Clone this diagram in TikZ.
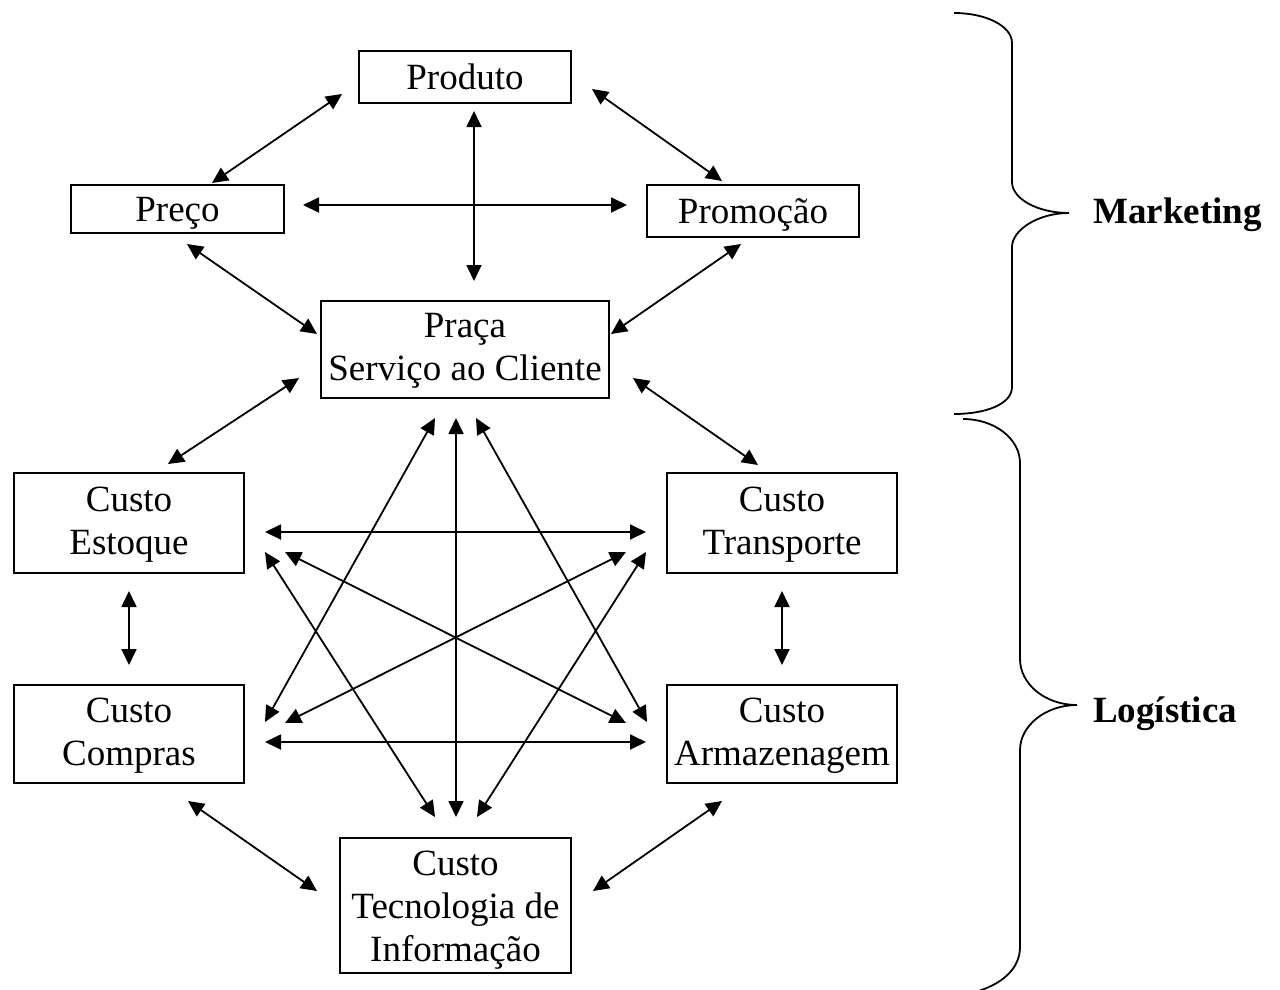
\documentclass[tikz,border=0pt]{standalone}
\usepackage{fontspec}
\setmainfont{Liberation Serif}
\usetikzlibrary{arrows.meta}
\newcommand\boxlines[1]{\begin{tabular}[t]{@{}c@{}}#1\end{tabular}}
\begin{document}
\begin{tikzpicture}[x=1pt,y=-1pt,
  every node/.style={font=\fontsize{37}{43}\selectfont},
  box/.style={draw,line width=2pt,inner sep=0pt,text height=24.5pt,text depth=0pt},
  two/.style={text depth=48pt},
  three/.style={text depth=85pt},
  arr/.style={line width=1.8pt,{Triangle[length=16pt,width=15pt]}-{Triangle[length=16pt,width=15pt]}},
  brace/.style={line width=1.8pt},
  side/.style={inner sep=0pt,anchor=base west,font=\fontsize{37}{43}\selectfont\bfseries}]
\useasboundingbox (0,0) rectangle (1280,989);
\fill[white] (0,0) rectangle (1280,989);

% boxes
\node[box,minimum width=212pt,minimum height=52pt] (produto) at (465,77) {\boxlines{Produto}};
\node[box,minimum width=213pt,minimum height=48pt] (preco) at (177.5,209) {\boxlines{Preço}};
\node[box,minimum width=212pt,minimum height=52pt] (promocao) at (753,211) {\boxlines{Promoção}};
\node[box,two,minimum width=288pt,minimum height=97pt] (praca) at (465,349.5) {\boxlines{Praça\\Serviço ao Cliente}};
\node[box,two,minimum width=230pt,minimum height=100pt] (estoque) at (129,523) {\boxlines{Custo\\Estoque}};
\node[box,two,minimum width=230pt,minimum height=100pt] (transporte) at (782,523) {\boxlines{Custo\\Transporte}};
\node[box,two,minimum width=230pt,minimum height=98pt] (compras) at (129,734) {\boxlines{Custo\\Compras}};
\node[box,two,minimum width=230pt,minimum height=98pt] (armazenagem) at (782,734) {\boxlines{Custo\\Armazenagem}};
\node[box,three,minimum width=231pt,minimum height=135pt] (tecnologia) at (455.5,905.5) {\boxlines{Custo\\Tecnologia de\\Informação}};

% marketing arrows
\draw[arr] ([shift={(-16,17)}]produto.west) -- ([shift={(34.5,-1)}]preco.north);
\draw[arr] ([shift={(20,12)}]produto.east) -- ([shift={(-31,-3)}]promocao.north);
\draw[arr] ([shift={(9,7)}]produto.south) -- ([shift={(9,-19)}]praca.north);
\draw[arr] ([shift={(18,-4)}]preco.east) -- ([shift={(-19,-6)}]promocao.west);
\draw[arr] ([shift={(9.5,10)}]preco.south) -- ([shift={(-3,-15.5)}]praca.west);
\draw[arr] ([shift={(-12,6)}]promocao.south) -- ([shift={(1,-15.5)}]praca.east);

% links praca - logistics
\draw[arr] ([shift={(-21,28.5)}]praca.west) -- ([shift={(39,-8)}]estoque.north);
\draw[arr] ([shift={(23,28.5)}]praca.east) -- ([shift={(-24,-7)}]transporte.north);
\draw[arr] ([shift={(0,17)}]estoque.south) -- ([shift={(0,-19)}]compras.north);
\draw[arr] ([shift={(0,17)}]transporte.south) -- ([shift={(0,-19)}]armazenagem.north);
\draw[arr] ([shift={(59,17)}]compras.south) -- ([shift={(-22,-14.5)}]tecnologia.west);
\draw[arr] ([shift={(-60,17)}]armazenagem.south) -- ([shift={(21,-14.5)}]tecnologia.east);

% star
\draw[arr] ([shift={(-30,19)}]praca.south) -- ([shift={(20,-12)}]compras.east);
\draw[arr] ([shift={(11,19)}]praca.south) -- ([shift={(-19,-12)}]armazenagem.west);
\draw[arr] ([shift={(-9,19)}]praca.south) -- ([shift={(0.5,-20)}]tecnologia.north);
\draw[arr] ([shift={(20,29)}]estoque.east) -- ([shift={(-20.5,-20)}]tecnologia.north);
\draw[arr] ([shift={(-20,29)}]transporte.west) -- ([shift={(21.5,-20)}]tecnologia.north);
\draw[arr] ([shift={(40,29)}]estoque.east) -- ([shift={(-40,-11)}]armazenagem.west);
\draw[arr] ([shift={(-40,29)}]transporte.west) -- ([shift={(40,-11)}]compras.east);
\draw[arr] ([shift={(20,9)}]estoque.east) -- ([shift={(-20,9)}]transporte.west);
\draw[arr] ([shift={(20,8)}]compras.east) -- ([shift={(-20,8)}]armazenagem.west);

% braces
\draw[brace] (954,13) .. controls (986,13) and (1012,26) .. (1012,43) -- (1012,182)
  .. controls (1012,199) and (1038,213) .. (1069,213)
  .. controls (1038,213) and (1012,230) .. (1012,247) -- (1012,387)
  .. controls (1012,404) and (986,414) .. (954,414);
\begin{scope}
\clip (0,0) rectangle (1280,989);
\draw[brace] (963,419) .. controls (995,419) and (1020,439) .. (1020,463) -- (1020,659)
  .. controls (1020,684) and (1045,705) .. (1077,705)
  .. controls (1045,705) and (1020,726) .. (1020,750) -- (1020,947)
  .. controls (1020,970) and (1000,985) .. (975,992);
\end{scope}

\node[side] (marketing) at (1093,223) {Marketing};
\node[side] (logistica) at (1093,722) {Logística};
\end{tikzpicture}
\end{document}
